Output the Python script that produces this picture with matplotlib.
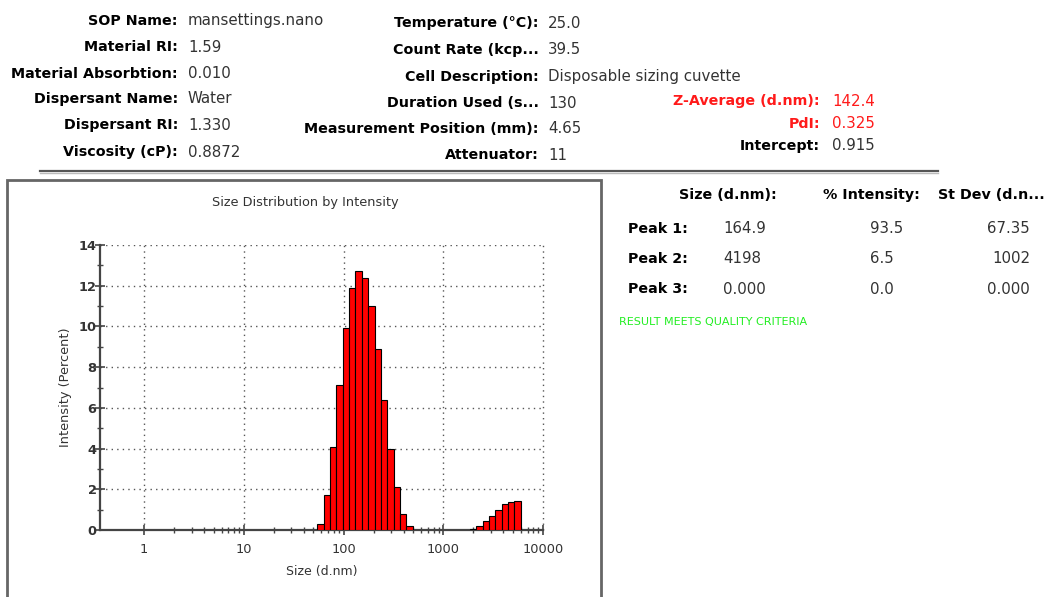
import matplotlib
matplotlib.use("Agg")
import matplotlib.pyplot as plt
import numpy as np
from matplotlib.patches import Rectangle
from matplotlib.lines import Line2D
from matplotlib.ticker import FixedLocator, NullFormatter

plt.rcParams['font.family'] = ['DejaVu Sans']

# ---------------- data ----------------
sizes_peak1 = [58.77, 68.06, 78.82, 91.28, 105.7, 122.4, 141.8, 164.2, 190.1,
               220.2, 255.0, 295.3, 342.0, 396.1, 458.7]
intensity_peak1 = [0.3, 1.7, 4.1, 7.1, 9.9, 11.9, 12.7, 12.4, 11.0,
                   8.9, 6.4, 4.0, 2.1, 0.8, 0.2]
sizes_peak2 = [1990, 2305, 2669, 3091, 3580, 4145, 4801, 5560]
intensity_peak2 = [0.05, 0.2, 0.45, 0.7, 1.0, 1.3, 1.37, 1.43]
bin_ratio = 1.1582  # ratio between neighbouring size classes

x_ticks = [1, 10, 100, 1000, 10000]
x_tick_labels = ["1", "10", "100", "1000", "10000"]
y_ticks = [0, 2, 4, 6, 8, 10, 12, 14]

header_col1_labels = ["SOP Name:", "Material RI:", "Material Absorbtion:",
                      "Dispersant Name:", "Dispersant RI:", "Viscosity (cP):"]
header_col1_values = ["mansettings.nano", "1.59", "0.010", "Water", "1.330", "0.8872"]
header_col2_labels = ["Temperature (°C):", "Count Rate (kcp...", "Cell Description:",
                      "Duration Used (s...", "Measurement Position (mm):", "Attenuator:"]
header_col2_values = ["25.0", "39.5", "Disposable sizing cuvette", "130", "4.65", "11"]
header_col3_labels = ["Z-Average (d.nm):", "PdI:", "Intercept:"]
header_col3_values = ["142.4", "0.325", "0.915"]

table_headers = ["Size (d.nm):", "% Intensity:", "St Dev (d.n..."]
peak_names = ["Peak 1:", "Peak 2:", "Peak 3:"]
peak_sizes = ["164.9", "4198", "0.000"]
peak_intensity = ["93.5", "6.5", "0.0"]
peak_stdev = ["67.35", "1002", "0.000"]

# ---------------- figure ----------------
W, H = 1048, 597
fig = plt.figure(figsize=(W / 100, H / 100), dpi=100)
fig.patch.set_facecolor("white")

def fx(px):
    return px / W

def fy(py):
    return 1 - py / H

label_fs = 10.3
value_fs = 10.8
val_col = "#333333"

# header column 1
rows1 = [21, 47, 74, 99, 125, 152]
for lab, val, y in zip(header_col1_labels, header_col1_values, rows1):
    fig.text(fx(178), fy(y), lab, ha="right", va="center", fontsize=label_fs,
             fontweight="bold", color="black")
    fig.text(fx(188), fy(y), val, ha="left", va="center", fontsize=value_fs, color=val_col)

# header column 2
rows2 = [23, 50, 77, 103, 129, 155]
for lab, val, y in zip(header_col2_labels, header_col2_values, rows2):
    fig.text(fx(539), fy(y), lab, ha="right", va="center", fontsize=label_fs,
             fontweight="bold", color="black")
    fig.text(fx(548), fy(y), val, ha="left", va="center", fontsize=value_fs, color=val_col)

# header column 3
rows3 = [101, 124, 146]
cols3 = ["#ff1a1a", "#ff1a1a", "black"]
vcols3 = ["#ff1a1a", "#ff1a1a", val_col]
for lab, val, y, c, vc in zip(header_col3_labels, header_col3_values, rows3, cols3, vcols3):
    fig.text(fx(820), fy(y), lab, ha="right", va="center", fontsize=label_fs,
             fontweight="bold", color=c)
    fig.text(fx(832), fy(y), val, ha="left", va="center", fontsize=value_fs, color=vc)

# separator line
fig.add_artist(Line2D([fx(40), fx(938)], [fy(171), fy(171)], color="#555555", lw=1.6))
fig.add_artist(Line2D([fx(40), fx(938)], [fy(173), fy(173)], color="#bbbbbb", lw=1.0))

# chart frame
fig.add_artist(Rectangle((fx(7), fy(600)), fx(601) - fx(7), fy(180) - fy(600),
                         fill=False, edgecolor="#666666", lw=2.0))

# results table
hx = [728, 871, 991]
for t, x in zip(table_headers, hx):
    fig.text(fx(x), fy(195), t, ha="center", va="center", fontsize=label_fs,
             fontweight="bold", color="black")
prow = [229, 259, 289]
for name, s, i, sd, y in zip(peak_names, peak_sizes, peak_intensity, peak_stdev, prow):
    fig.text(fx(628), fy(y), name, ha="left", va="center", fontsize=label_fs,
             fontweight="bold", color="black")
    fig.text(fx(723), fy(y), s, ha="left", va="center", fontsize=value_fs, color=val_col)
    fig.text(fx(870), fy(y), i, ha="left", va="center", fontsize=value_fs, color=val_col)
    fig.text(fx(1030), fy(y), sd, ha="right", va="center", fontsize=value_fs, color=val_col)
fig.text(fx(619), fy(322), "RESULT MEETS QUALITY CRITERIA", ha="left", va="center",
         fontsize=8, color="#22ee22")

# ---------------- chart ----------------
ax = fig.add_axes([fx(100), fy(530), fx(543) - fx(100), fy(245) - fy(530)])
ax.set_xscale("log")
ax.set_xlim(0.362, 10000)
ax.set_ylim(0, 14)

half = np.sqrt(bin_ratio)
for sz, it in ((sizes_peak1, intensity_peak1), (sizes_peak2, intensity_peak2)):
    s = np.array(sz)
    left = s / half
    ax.bar(left, it, width=s * half - left, align="edge", color="#ff0000",
           edgecolor="black", linewidth=0.8, zorder=3)

ax.xaxis.set_major_locator(FixedLocator(x_ticks))
ax.set_xticklabels(x_tick_labels)
minor = [m * d for d in [1, 10, 100, 1000] for m in range(2, 10)]
ax.xaxis.set_minor_locator(FixedLocator(minor))
ax.xaxis.set_minor_formatter(NullFormatter())
ax.yaxis.set_major_locator(FixedLocator(y_ticks))
ax.yaxis.set_minor_locator(FixedLocator([1, 3, 5, 7, 9, 11, 13]))

for side in ("top", "right"):
    ax.spines[side].set_visible(False)
for side in ("left", "bottom"):
    ax.spines[side].set_color("#444444")
    ax.spines[side].set_linewidth(1.6)

ax.tick_params(axis="both", which="major", direction="inout", length=7, width=1.2,
               colors="#444444", labelsize=9.3, labelcolor="#333333")
ax.tick_params(axis="both", which="minor", direction="inout", length=5, width=1.0,
               colors="#444444")
ax.tick_params(axis="y", pad=-1)
ax.tick_params(axis="x", pad=6)
for lbl in ax.get_yticklabels():
    lbl.set_fontweight("bold")

ax.grid(True, which="major", linestyle=(0, (1, 3)), color="#555555", linewidth=1.0, zorder=0)
ax.set_axisbelow(True)
for gl in ax.get_xgridlines():
    gl.set_clip_on(False)

ax.set_xlabel("Size (d.nm)", fontsize=9, color="#333333", labelpad=6)
ax.set_ylabel("Intensity (Percent)", fontsize=9.3, color="#333333", labelpad=5)
fig.text(fx(305), fy(202), "Size Distribution by Intensity", ha="center", va="center",
         fontsize=9.3, color="#333333")

fig.savefig("out.png", dpi=100, facecolor="white")
